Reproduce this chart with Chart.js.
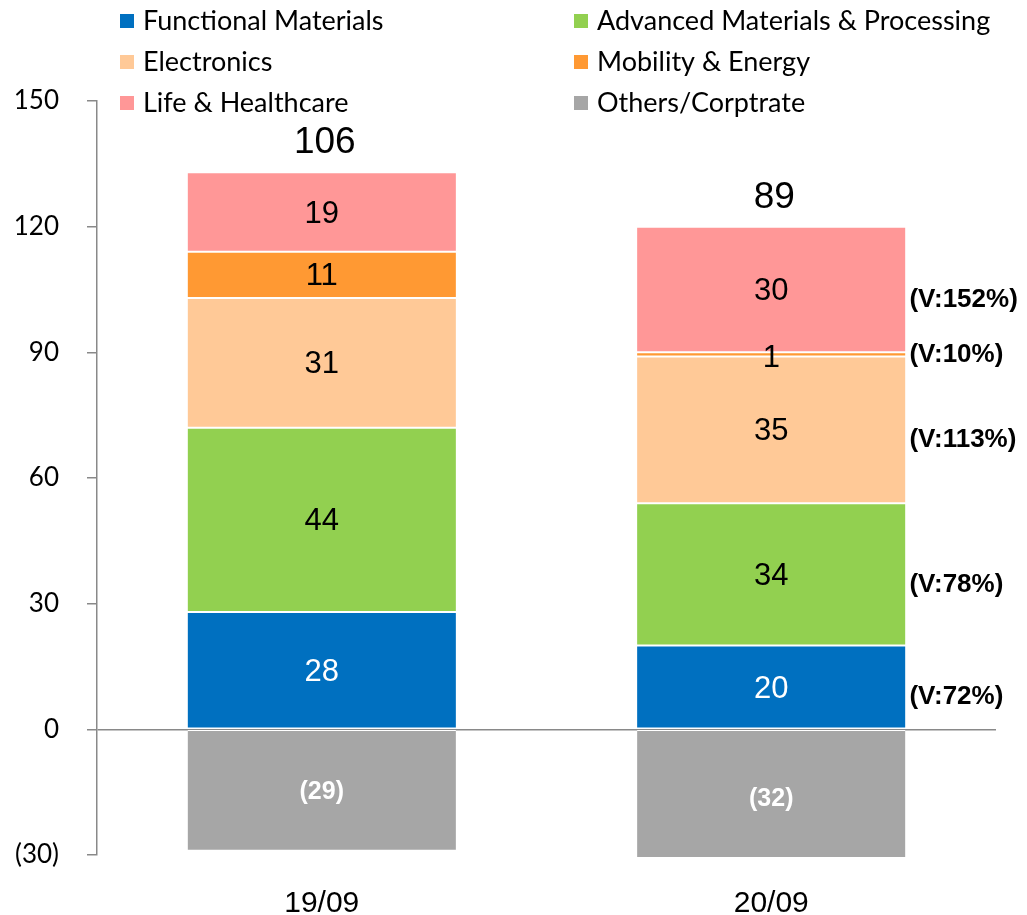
<!DOCTYPE html>
<html>
<head>
<meta charset="utf-8">
<script src="https://cdn.jsdelivr.net/npm/chart.js@4/dist/chart.umd.min.js"></script>
<style>
  html,body{margin:0;padding:0;background:#fff;}
  #wrap{position:relative;width:1027px;height:915px;}
</style>
</head>
<body>
<div id="wrap"><canvas id="c"></canvas></div>
<script>
// ===== data =====
const PERIODS = ['19/09','20/09'];
const SEGMENTS = ['Functional Materials','Advanced Materials & Processing','Electronics','Mobility & Energy','Life & Healthcare','Others/Corptrate'];
const COLORS = ['#0070c0','#92d050','#ffc997','#ff9933','#ff9797','#a6a6a6'];
const FUNC_MAT = [28,20];
const ADV_MAT  = [44,34];
const ELEC     = [31,35];
const MOBILITY = [11,1];
const LIFE     = [19,30];
const OTHERS   = [-29,-32];
const TOTALS = ['106','89'];
// variance notes next to the 20/09 bar, per segment (bottom to top)
const VNOTES = ['(V:72%)','(V:78%)','(V:113%)','(V:10%)','(V:152%)',null];
const Y_TICKS = {min:-30,max:150,step:30};

const SERIES=[FUNC_MAT,ADV_MAT,ELEC,MOBILITY,LIFE,OTHERS];
const WHITE_TEXT=[true,false,false,false,false,true];
const AXIS='#898989';
const ARIAL="'Liberation Sans', Arial, sans-serif";
const CAL="Lato, 'Noto Sans', sans-serif";

const fmt = v => v<0 ? '('+(-v)+')' : String(v);

// ===== labels, totals, notes, legend =====
const labelPlugin={
  id:'labels',
  afterDatasetsDraw(chart){
    const ctx=chart.ctx;
    ctx.save();
    ctx.textAlign='center'; ctx.textBaseline='middle';
    chart.data.datasets.forEach((ds,di)=>{
      const meta=chart.getDatasetMeta(di);
      meta.data.forEach((el,i)=>{
        const v=ds.data[i];
        const cy=(el.y+el.base)/2;
        const tiny=Math.abs(el.base-el.y)<10;
        ctx.fillStyle=WHITE_TEXT[di]?'#fff':'#000';
        if(v<0){
          ctx.font='bold 25px '+ARIAL;
          ctx.fillText(fmt(v),el.x,cy+2);
        }else{
          ctx.font='31px '+ARIAL;
          ctx.fillText(fmt(v),el.x,cy+(tiny?4:2));
        }
        if(i===1 && VNOTES[di]){
          ctx.save();
          ctx.textAlign='left'; ctx.fillStyle='#000';
          ctx.font='bold 26px '+ARIAL;
          ctx.fillText(VNOTES[di],el.x+el.width/2+4,cy+(tiny?0:10));
          ctx.restore();
        }
      });
    });
    // totals above stack
    const metas=chart.data.datasets.map((d,i)=>chart.getDatasetMeta(i));
    PERIODS.forEach((p,i)=>{
      let top=Infinity,x=0;
      metas.forEach(m=>{const el=m.data[i]; top=Math.min(top,el.y,el.base); x=el.x;});
      ctx.fillStyle='#000'; ctx.font='37px '+ARIAL;
      ctx.fillText(TOTALS[i],x+3,top-29);
    });
    ctx.restore();
  },
  afterDraw(chart){
    const ctx=chart.ctx;
    ctx.save();
    ctx.font='27px '+CAL; ctx.textBaseline='middle'; ctx.textAlign='left';
    chart.data.datasets.forEach((ds,i)=>{
      const col=i%2,row=Math.floor(i/2);
      const x=col?574:120, y=21+row*41;
      ctx.fillStyle=ds.backgroundColor;
      ctx.fillRect(x,y-7,14,14);
      ctx.fillStyle='#000';
      ctx.fillText(ds.label,x+23,y);
    });
    ctx.restore();
  }
};

new Chart(document.getElementById('c'),{
  type:'bar',
  data:{
    labels:PERIODS,
    datasets:SERIES.map((d,i)=>({
      label:SEGMENTS[i],data:d,backgroundColor:COLORS[i],
      borderColor:'#fff',borderWidth:{top:1,bottom:1,left:0,right:0},borderSkipped:false,
      clip:{left:false,top:false,right:false,bottom:2}
    }))
  },
  options:{
    responsive:true,maintainAspectRatio:false,animation:false,
    layout:{padding:{left:0,right:31,top:101,bottom:0}},
    plugins:{legend:{display:false},tooltip:{enabled:false}},
    datasets:{bar:{categoryPercentage:1,barPercentage:0.597}},
    scales:{
      x:{stacked:true,
        grid:{display:false,drawTicks:false},border:{display:false},
        ticks:{color:'#000',font:{family:ARIAL,size:30},padding:31},
        afterFit(s){s.height=60;}
      },
      y:{stacked:true,min:Y_TICKS.min,max:Y_TICKS.max,
        ticks:{stepSize:Y_TICKS.step,color:'#000',font:{family:CAL,size:26},padding:28,callback:v=>fmt(v)},
        grid:{color:c=>c.tick&&c.tick.value===0?AXIS:'rgba(0,0,0,0)',tickColor:AXIS,tickLength:10,lineWidth:1.5},
        border:{display:true,color:AXIS,width:1.5},
        afterFit(s){s.width=97;}
      }
    }
  },
  plugins:[labelPlugin]
});
</script>
</body>
</html>
